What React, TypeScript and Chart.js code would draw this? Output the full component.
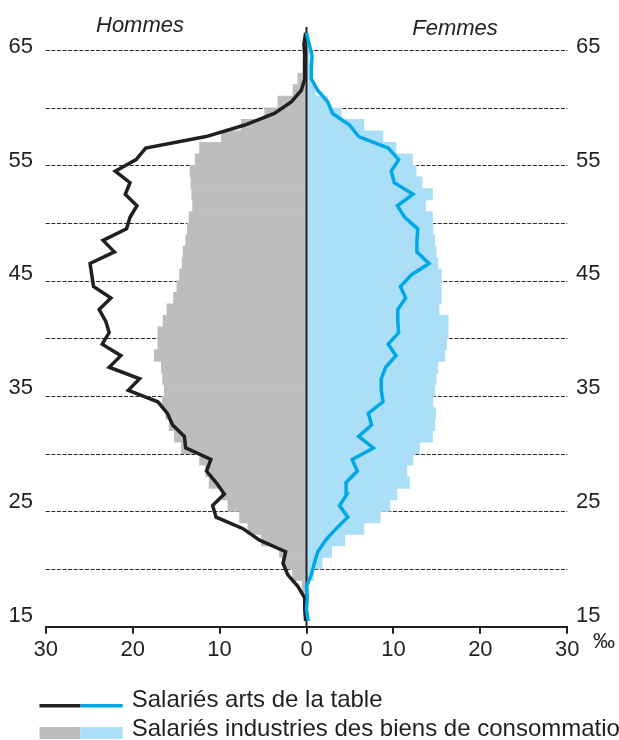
import React, { useEffect, useRef } from "react";
import { Chart, registerables } from "chart.js";

Chart.register(...registerables);

// Ages (one bar / one line vertex per year of age)
const ages = [
  15, 16, 17, 18, 19, 20, 21, 22, 23, 24, 25, 26, 27, 28, 29, 30, 31, 32, 33, 34,
  35, 36, 37, 38, 39, 40, 41, 42, 43, 44, 45, 46, 47, 48, 49, 50, 51, 52, 53, 54,
  55, 56, 57, 58, 59, 60, 61, 62, 63, 64, 65, 66,
];

// ‰ — Salariés industries des biens de consommation, hommes (gray bars, left)
const menIndustries = [
  0, 0, 0.2, 0.5, 1.6, 2.5, 3.1, 5.2, 6.75, 7.7, 9.05, 9.8, 11.2, 11.6, 12.3, 14.4, 15.2, 15.8, 16.2, 16.6,
  16.35, 16.55, 16.7, 17.5, 17.1, 17.1, 16.5, 16.05, 15.3, 14.9, 14.6, 14.3, 14.2, 13.9, 13.7, 13.5, 13.1, 13.2, 13.3, 13.4,
  12.8, 12.3, 9.8, 7.5, 4.8, 3.3, 1.55, 1.0, 0.45, 0.4, 0, 0,
];

// ‰ — Salariés industries des biens de consommation, femmes (light blue bars, right)
const womenIndustries = [
  0, 0, 0, 0.3, 0.8, 1.8, 2.9, 4.4, 6.6, 8.5, 9.6, 10.4, 11.85, 11.55, 12.25, 13.0, 14.5, 14.75, 14.85, 14.55,
  14.75, 14.9, 15.1, 15.9, 16.1, 16.3, 16.3, 15.25, 15.5, 15.5, 15.5, 15.1, 14.9, 14.75, 14.55, 14.5, 13.7, 14.5, 13.3, 12.6,
  12.2, 10.3, 8.8, 6.6, 4.0, 2.45, 1.0, 0.6, 0.4, 0.3, 0, 0,
];

// ‰ — Salariés arts de la table, hommes (black line)
const menArts = [
  0.1, 0.2, 0.2, 1.0, 2.15, 2.7, 2.4, 5.4, 7.3, 10.4, 10.8, 9.45, 10.4, 11.5, 11.0, 13.9, 14.05, 15.4, 16.0, 17.1,
  20.5, 19.2, 22.7, 21.35, 23.5, 22.7, 23.1, 23.85, 22.5, 24.5, 24.7, 24.9, 22.1, 23.4, 20.7, 20.3, 19.5, 20.85, 20.3, 22.0,
  19.6, 18.5, 11.55, 7.1, 3.7, 1.75, 0.6, 0.2, 0.2, 0.2, 0.3, 0.1,
];

// ‰ — Salariés arts de la table, femmes (blue line)
const womenArts = [
  0.2, 0, 0.1, 0, 0.55, 0.9, 1.3, 2.2, 3.4, 4.75, 3.8, 4.65, 4.55, 5.85, 5.25, 7.7, 6.0, 7.5, 7.1, 8.8,
  8.6, 8.6, 9.1, 10.3, 9.4, 10.6, 10.5, 10.5, 11.4, 10.8, 12.05, 14.1, 12.7, 12.7, 12.8, 11.3, 10.45, 12.25, 10.1, 9.75,
  10.6, 9.4, 6.0, 4.95, 3.0, 2.45, 1.3, 0.55, 0.55, 0.65, 0.3, 0,
];

const gridAges = [20, 25, 30, 35, 40, 45, 50, 55, 60, 65];
const ageLabels = [15, 25, 35, 45, 55, 65];
const titles = ["Hommes", "Femmes"];
const legendLabels = ["Salariés arts de la table", "Salariés industries des biens de consommation"];
const unitLabel = "‰";

const FONT = "'Liberation Sans', Arial, sans-serif";
const INK = "#231f20";
const GRAY = "#bcbdbf";
const LIGHT_BLUE = "#abdff8";
const BLUE = "#00a9e6";

export default function App() {
  const ref = useRef<HTMLCanvasElement>(null);

  useEffect(() => {
    if (!ref.current) return;

    const overlay = {
      id: "overlay",
      beforeDatasetsDraw(chart: any) {
        const { ctx, chartArea, scales } = chart;
        const y = scales.y;
        ctx.save();
        ctx.strokeStyle = "#2a2a2a";
        ctx.lineWidth = 1;
        ctx.setLineDash([4, 1.6]);
        for (const a of gridAges) {
          const py = Math.round(y.getPixelForValue(a)) + 0.5;
          ctx.beginPath();
          ctx.moveTo(chartArea.left, py);
          ctx.lineTo(chartArea.right, py);
          ctx.stroke();
        }
        ctx.restore();
      },
      afterDatasetDraw(chart: any, args: any) {
        if (args.index !== 1) return;
        const { ctx, chartArea, scales } = chart;
        const px = scales.x.getPixelForValue(0);
        ctx.save();
        ctx.strokeStyle = INK;
        ctx.lineWidth = 2;
        ctx.beginPath();
        ctx.moveTo(px, chartArea.top);
        ctx.lineTo(px, chartArea.bottom);
        ctx.stroke();
        ctx.restore();
      },
      afterDraw(chart: any) {
        const { ctx, scales } = chart;
        const y = scales.y;
        ctx.save();
        ctx.fillStyle = INK;
        ctx.textBaseline = "alphabetic";
        ctx.font = `22px ${FONT}`;
        for (const a of ageLabels) {
          const py = y.getPixelForValue(a) - 4.7 + (a - 15) * 0.146;
          ctx.textAlign = "right";
          ctx.fillText(String(a), 33, py);
          ctx.textAlign = "left";
          ctx.fillText(String(a), 576, py);
        }
        // unit
        ctx.textAlign = "left";
        ctx.font = `22px ${FONT}`;
        ctx.fillText(unitLabel, 593, 648);
        // titles
        ctx.font = `italic 22px ${FONT}`;
        ctx.textAlign = "center";
        ctx.fillText(titles[0], 140, 32);
        ctx.fillText(titles[1], 455, 35);
        // legend
        ctx.lineWidth = 3.5;
        ctx.strokeStyle = INK;
        ctx.beginPath();
        ctx.moveTo(39.5, 705.7);
        ctx.lineTo(80.5, 705.7);
        ctx.stroke();
        ctx.strokeStyle = BLUE;
        ctx.beginPath();
        ctx.moveTo(80.5, 705.7);
        ctx.lineTo(122.7, 705.7);
        ctx.stroke();
        ctx.fillStyle = GRAY;
        ctx.fillRect(39.5, 727, 41, 12);
        ctx.fillStyle = LIGHT_BLUE;
        ctx.fillRect(80.5, 727, 42.2, 12);
        ctx.fillStyle = INK;
        ctx.font = `24px ${FONT}`;
        ctx.textAlign = "left";
        ctx.fillText(legendLabels[0], 131.7, 707);
        ctx.fillText(legendLabels[1], 131.7, 736);
        ctx.restore();
      },
    };

    const chart = new Chart(ref.current, {
      type: "bar",
      data: {
        datasets: [
          {
            type: "bar",
            label: "Hommes industries",
            data: ages.map((a, i) => ({ x: -menIndustries[i], y: a + 0.5 })),
            backgroundColor: GRAY,
            borderWidth: 0,
            grouped: false,
            barPercentage: 1,
            categoryPercentage: 1,
            order: 4,
          } as any,
          {
            type: "bar",
            label: "Femmes industries",
            data: ages.map((a, i) => ({ x: womenIndustries[i], y: a + 0.5 })),
            backgroundColor: LIGHT_BLUE,
            borderWidth: 0,
            grouped: false,
            barPercentage: 1,
            categoryPercentage: 1,
            order: 3,
          } as any,
          {
            type: "line",
            label: "Hommes arts de la table",
            data: ages.map((a, i) => ({ x: -menArts[i], y: a + 0.5 })),
            borderColor: INK,
            borderWidth: 3.5,
            pointRadius: 0,
            tension: 0,
            borderJoinStyle: "miter",
            fill: false,
            order: 2,
          } as any,
          {
            type: "line",
            label: "Femmes arts de la table",
            data: ages.map((a, i) => ({ x: womenArts[i], y: a + 0.5 })),
            borderColor: BLUE,
            borderWidth: 3.5,
            pointRadius: 0,
            tension: 0,
            borderJoinStyle: "miter",
            fill: false,
            order: 1,
          } as any,
        ],
      },
      options: {
        indexAxis: "y",
        responsive: false,
        animation: false,
        devicePixelRatio: 1,
        layout: { padding: { left: 45.7, right: 51.7, top: 27, bottom: 0 } },
        plugins: { legend: { display: false }, tooltip: { enabled: false } },
        scales: {
          y: { type: "linear", min: 15, max: 67, offset: false, display: false },
          x: {
            type: "linear",
            position: "bottom",
            min: -30,
            max: 30,
            offset: false,
            afterFit: (scale: any) => {
              scale.height = 113.3;
            },
            ticks: {
              stepSize: 10,
              padding: 3,
              color: INK,
              font: { family: FONT, size: 22 },
              callback: (v: any) => String(Math.abs(Number(v))),
            },
            grid: {
              drawOnChartArea: false,
              drawTicks: true,
              tickLength: 7,
              color: INK,
              lineWidth: 2,
            },
            border: { display: true, color: INK, width: 2 },
          },
        },
      } as any,
      plugins: [overlay],
    });

    return () => chart.destroy();
  }, []);

  return (
    <div style={{ position: "absolute", left: 0, top: 0, width: 619, height: 740, background: "#fff" }}>
      <canvas ref={ref} width={619} height={740} style={{ display: "block" }} />
    </div>
  );
}
